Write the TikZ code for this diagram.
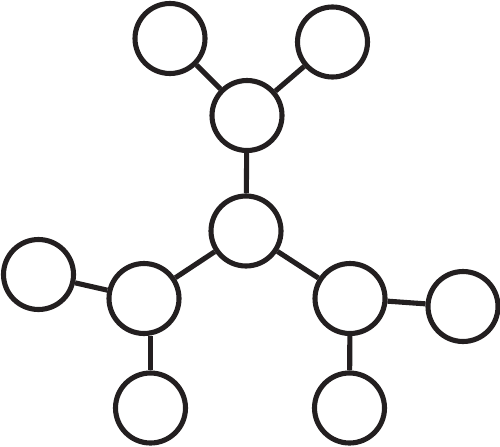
\documentclass[tikz,border=0pt]{standalone}
\usepackage{tikz}

\begin{document}
\begin{tikzpicture}
\definecolor{ink}{HTML}{231F20}
\tikzset{atom/.style={draw=ink, circle, line width=2.9pt, minimum size=1.4cm, inner sep=0pt},
         bond/.style={ink, line width=2.9pt}}
\useasboundingbox (0,0) rectangle (10,-8.92);
% Central atom and the upper branch
\node[atom] (hub) at (4.92,-4.62) {};
\node[atom] (upper) at (4.94,-2.31) {};
\node[atom] (topleft) at (3.40,-0.77) {};
\node[atom] (topright) at (6.65,-0.84) {};
% Left branch
\node[atom] (left) at (2.88,-5.97) {};
\node[atom] (farleft) at (0.77,-5.49) {};
\node[atom] (botleft) at (3.01,-8.16) {};
% Right branch
\node[atom] (right) at (7.00,-5.97) {};
\node[atom] (farright) at (9.26,-6.13) {};
\node[atom] (botright) at (6.99,-8.16) {};
% Bonds
\draw[bond] (hub) -- (upper);
\draw[bond] (upper) -- (topleft);
\draw[bond] (upper) -- (topright);
\draw[bond] (hub) -- (left);
\draw[bond] (left) -- (farleft);
\draw[bond] (botleft) -- (botleft |- left.south); % straight down to the lower atom
\draw[bond] (hub) -- (right);
\draw[bond] (right) -- (farright);
\draw[bond] (right) -- (botright);
\end{tikzpicture}
\end{document}
